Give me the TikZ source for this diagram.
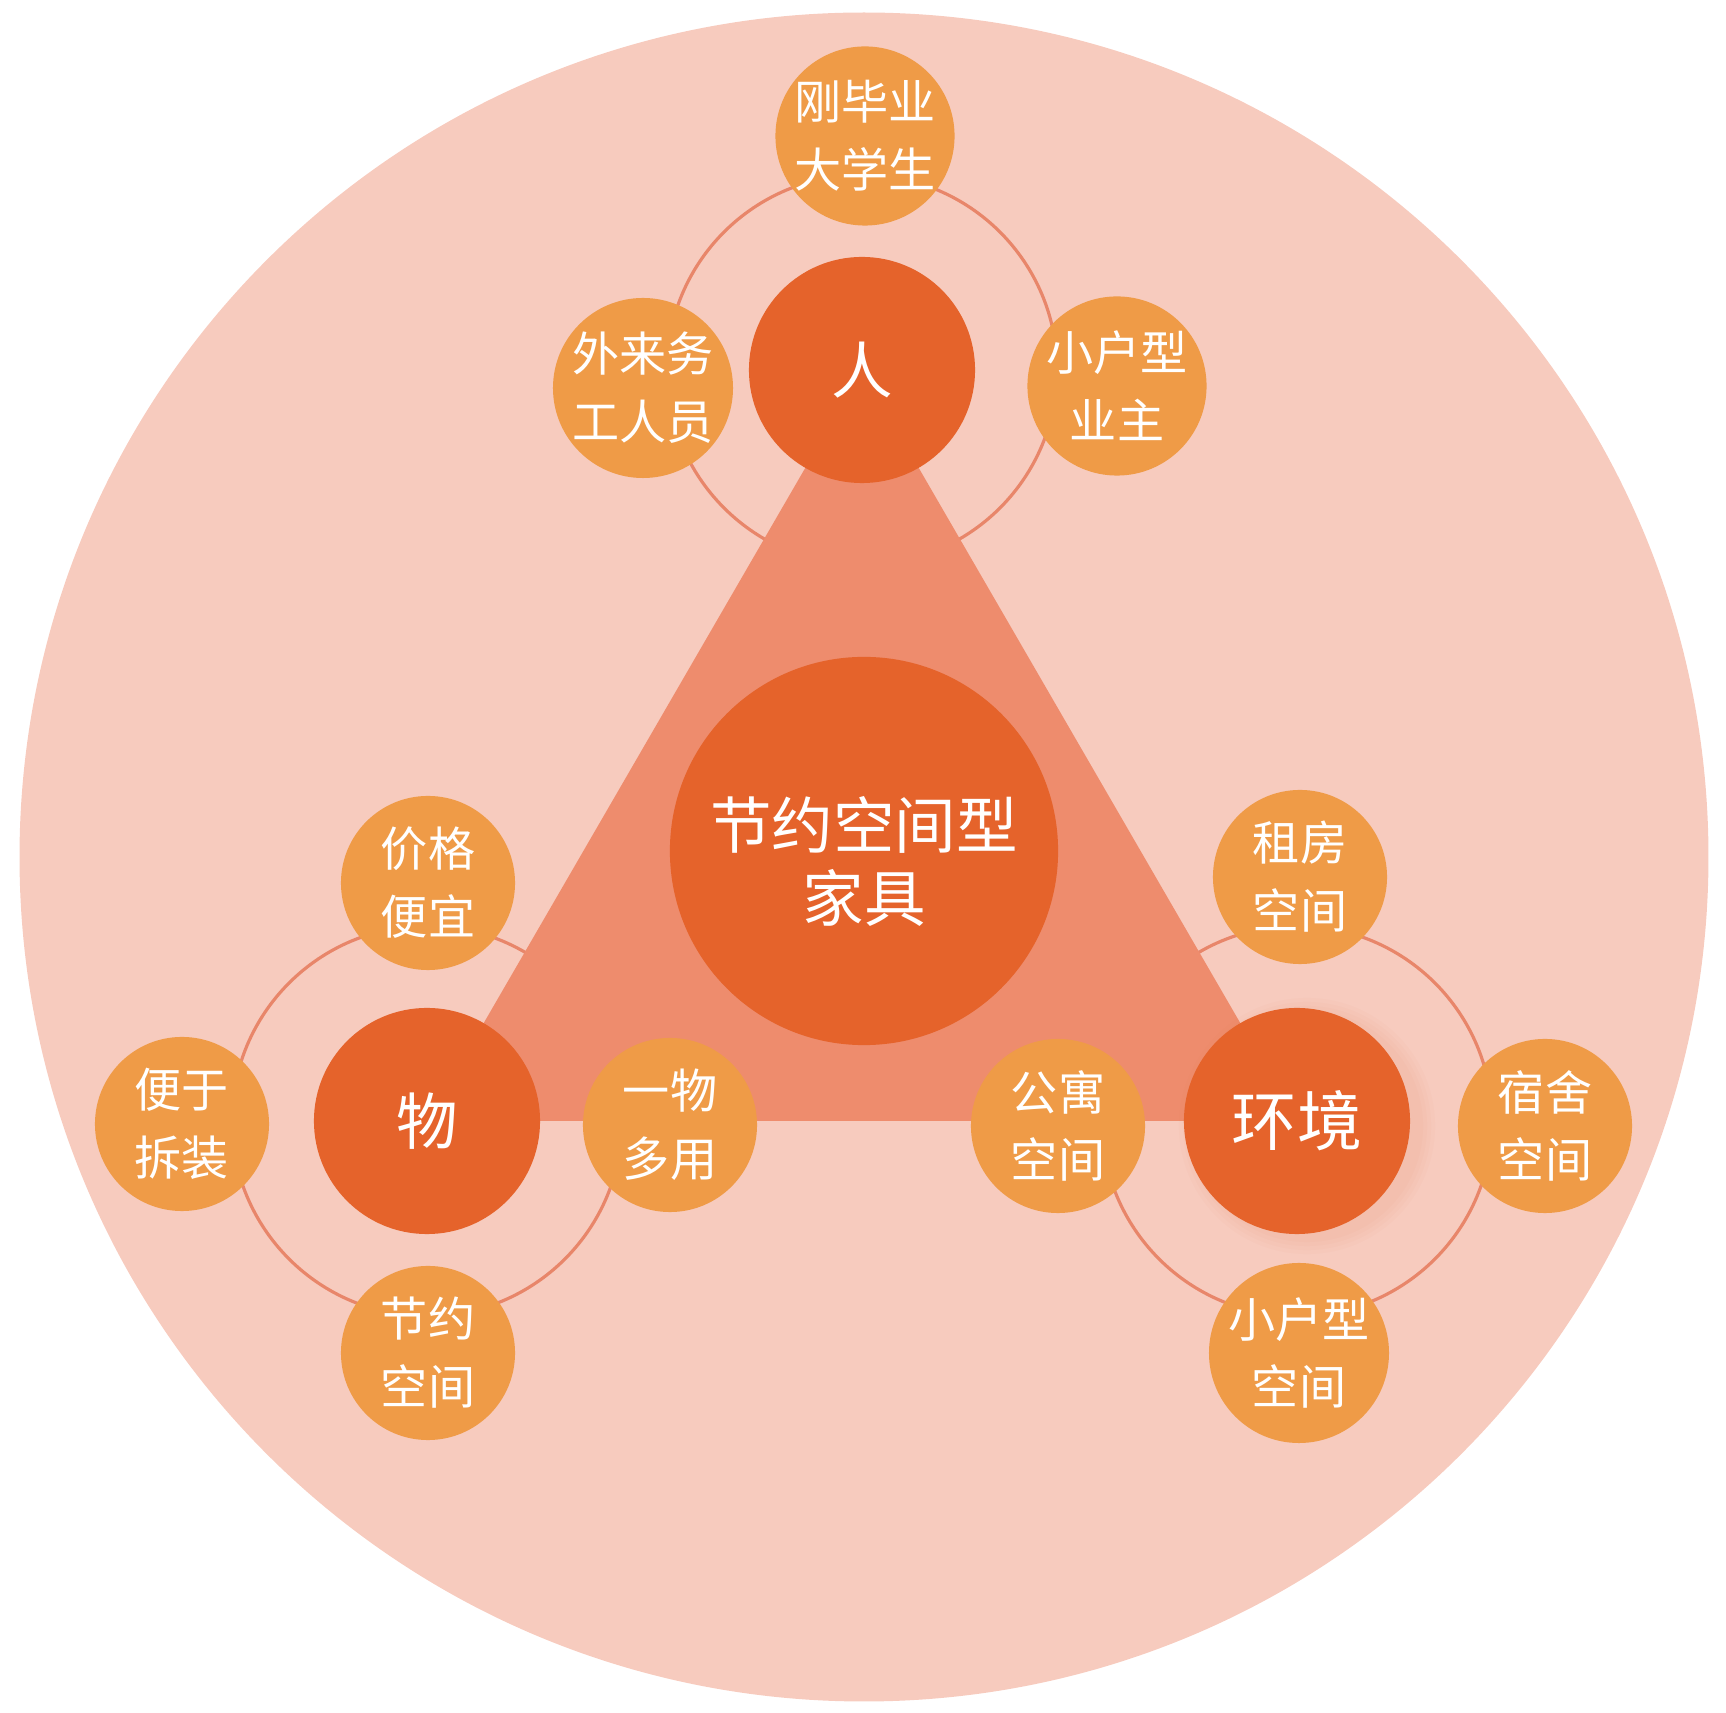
\documentclass[tikz,border=0pt]{standalone}
\usepackage{fontspec}
\setmainfont{Noto Sans CJK SC}
\usepackage{tikz}
\usetikzlibrary{positioning}
\definecolor{jkback}{HTML}{F7CBBE}
\definecolor{jktri}{HTML}{EE8C6D}
\definecolor{jkdark}{HTML}{E5632B}
\definecolor{jklight}{HTML}{EF9B47}
\definecolor{jkring}{HTML}{E8866A}

\begin{document}
\begin{tikzpicture}[x=0.01cm, y=-0.01cm,
    every node/.style={circle, inner sep=0pt, align=center, text=white},
    hub/.style={fill=jkdark, minimum size=2.26cm, font=\fontsize{17.5}{19.3}\selectfont},
    leaf/.style={fill=jklight, minimum size=1.74cm, font=\fontsize{13.4}{19.3}\selectfont},
    ring/.style={draw=jkring, line width=0.9pt}]
  \useasboundingbox (0,0) rectangle (1726,1713);
  % backdrop disc
  \fill[jkback] (864,857) circle (8.44cm);
  % the three hubs
  \coordinate (pRen) at (862,370);
  \coordinate (pWu) at (427,1121);
  \coordinate (pEnv) at (1297,1121);
  \foreach \p in {pRen,pWu,pEnv}
    \draw[ring] (\p) circle (1.95cm);
  \fill[jktri] (pRen) -- (pWu) -- (pEnv) -- cycle;
  % core
  \node[fill=jkdark, minimum size=3.88cm, font=\fontsize{17.5}{19.3}\selectfont]
    (core) at (864,851) {\raisebox{-0.70cm}[0pt][0pt]{\shortstack{节约空间型\\[0.05cm]家具}}};
  % soft shadow of the right hub
  \foreach \r in {1.16,1.20,1.24,1.28}
    \fill[jkdark, opacity=0.025] (1307,1126) circle (\r cm);
  \node[hub] (ren) at (pRen) {人};
  \node[hub] (wu) at (pWu) {物};
  \node[hub, font=\fontsize{18.5}{19.3}\selectfont] (huanjing) at (pEnv) {环境};
  % leaves round each hub
  \foreach \nm/\px/\py/\txt in {
      gangbiye/865/136/{刚毕业\\大学生}, wailai/643/388/{外来务\\工人员},
      yezhu/1117/386/{小户型\\业主},
      jiage/428/883/{价格\\便宜}, chaizhuang/182/1124/{便于\\拆装},
      duoyong/670/1125/{一物\\多用}, jieyue/428/1353/{节约\\空间},
      zufang/1300/877/{租房\\空间}, gongyu/1058/1126/{公寓\\空间},
      sushe/1545/1126/{宿舍\\空间}, xiaohu/1299/1353/{小户型\\空间}}
    \node[leaf] (\nm) at (\px,\py) {\txt};
\end{tikzpicture}
\end{document}
